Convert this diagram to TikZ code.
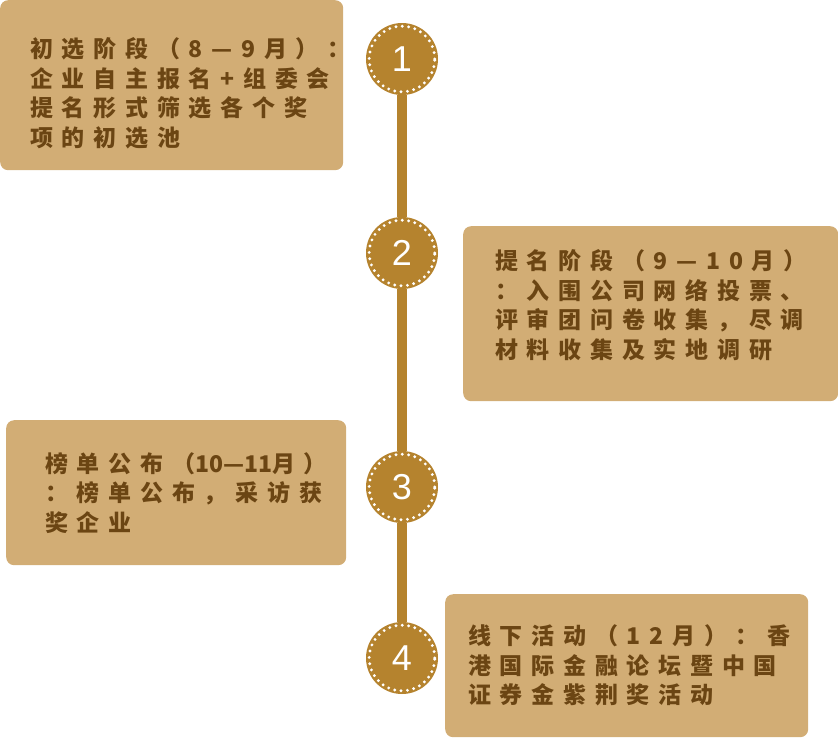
\documentclass[tikz,border=0pt]{standalone}
\usepackage{fontspec}
\setmainfont{Liberation Sans}
\newfontfamily\cjk[LetterSpace=38]{Noto Sans CJK SC}
\newfontfamily\cjktight{Noto Sans CJK SC}
\usetikzlibrary{positioning}
\definecolor{boxfill}{HTML}{D2AD75}
\definecolor{stemgold}{HTML}{B5832E}
\definecolor{txtbrown}{HTML}{6B4513}
\tikzset{
	stagebox/.style={fill=boxfill, rounded corners=8pt, anchor=north west,
		align=left, inner ysep=0pt, text=txtbrown,
		font=\cjk\bfseries\fontsize{23}{29.5}\selectfont},
	stepdot/.style={circle, fill=stemgold, minimum size=72pt, inner sep=0pt,
		text=white, font=\fontsize{36}{36}\selectfont,
		path picture={\draw[white, line width=3.2pt, line cap=round,
			dash pattern=on 0pt off 6.4pt]
			(path picture bounding box.center) circle (32.8pt);}},
	stem/.style={draw=stemgold, line width=10pt}
}

\begin{document}
\begin{tikzpicture}[x=1pt, y=-1pt]
	\useasboundingbox (0,0) rectangle (838,737);
	
	%% -- Timeline dots
	\node[stepdot] (c1) at (402,59) {1};
	\node[stepdot] (c2) at (402,253) {2};
	\node[stepdot] (c3) at (402,487) {3};
	\node[stepdot] (c4) at (402,658) {4};
	
	%% -- Stem between the dots
	\draw[stem] (c1) -- (c2);
	\draw[stem] (c2) -- (c3);
	\draw[stem] (c3) -- (c4);
	
	%% -- Stage boxes
	\node[stagebox, inner xsep=30pt, text width=283pt, minimum height=170pt]
	(b1) at (0,0)
	{\rule{0pt}{36pt}\mbox{初选阶段（8—9月）：}\\\mbox{企业自主报名+组委会}\\
		\mbox{提名形式筛选各个奖}\\项的初选池};
	
	\node[stagebox, inner xsep=32pt, text width=311pt, minimum height=175pt]
	(b2) at (463,226)
	{\mbox{提名阶段（9—10月）}\\\mbox{：入围公司网络投票、}\\
		\mbox{评审团问卷收集，尽调}\\\mbox{材料收集及实地调研}\rule[-19pt]{0pt}{19pt}};
	
	\node[stagebox, inner xsep=39pt, text width=262pt, minimum height=145pt]
	(b3) at (6,420)
	{\mbox{榜单公布（{\cjktight\bfseries 10—11}月）}\\
		\mbox{：榜单公布，采访获}\\奖企业};
	
	\node[stagebox, inner xsep=23pt, text width=317pt, minimum height=143pt]
	(b4) at (445,594)
	{\mbox{线下活动（12月）：香}\\\mbox{港国际金融论坛暨中国}\\
		\mbox{证券金紫荆奖活动}};
	
\end{tikzpicture}
\end{document}
